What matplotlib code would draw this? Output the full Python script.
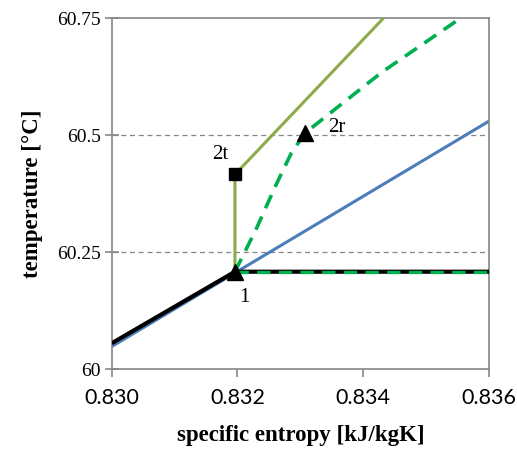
import matplotlib
matplotlib.use('Agg')
import matplotlib.pyplot as plt

# data
s1, T1 = 0.83196, 60.208
s_2t, T_2t = 0.83196, 60.416
s_2r, T_2r = 0.83307, 60.504

blue_s = [0.830, 0.836]
blue_T = [60.048, 60.530]

black_s = [0.830, s1, 0.836]
black_T = [60.055, T1, T1]

olive_s = [s1, s_2t, 0.83432, 0.8350]
olive_T = [T1, T_2t, 60.75, 60.858]

green_s = [s1, 0.83230, 0.83260, 0.83285, s_2r, 0.83350, 0.83430, 0.83560]
green_T = [T1, 60.300, 60.390, 60.460, T_2r, 60.550, 60.635, 60.755]

green_h_s = [s1, 0.836]
green_h_T = [T1, T1]

xticks = [0.830, 0.832, 0.834, 0.836]
yticks = [60, 60.25, 60.5, 60.75]
ytick_labels = ['60', '60.25', '60.5', '60.75']

grey = '#868686'
serif = 'Liberation Serif'

fig = plt.figure(figsize=(5.17, 4.55), dpi=100)
ax = fig.add_axes([0.216, 0.189, 0.730, 0.771])

for y in [60.25, 60.5]:
    ax.axhline(y, color=grey, lw=0.9, ls=(0, (4, 3)), zorder=1)

ax.plot(blue_s, blue_T, color='#4A7EBB', lw=2.2, zorder=2)
ax.plot(black_s, black_T, color='black', lw=3.0, zorder=3, solid_capstyle='butt')
ax.plot(olive_s, olive_T, color='#8FAA4B', lw=2.2, zorder=4)
ax.plot(green_s, green_T, color='#00B050', lw=2.6, ls=(0, (4, 2.5)), zorder=5)
ax.plot(green_h_s, green_h_T, color='#00B050', lw=2.4, ls=(0, (4, 2.5)), zorder=5)

ax.plot([s_2t], [T_2t], marker='s', ms=9, color='black', zorder=6)
ax.plot([s1, s_2r], [T1, T_2r], ls='none', marker='^', ms=11, color='black', zorder=6)

ax.text(s_2t - 0.00011, T_2t + 0.022, '2t', ha='right', va='bottom',
        fontsize=15, family=serif)
ax.text(s_2r + 0.00037, T_2r + 0.012, '2r', ha='left', va='center',
        fontsize=15, family=serif)
ax.text(s1 + 0.00015, T1 - 0.035, '1', ha='center', va='top',
        fontsize=15, family=serif)

ax.set_xlim(0.830, 0.836)
ax.set_ylim(60, 60.75)
ax.set_xticks(xticks)
ax.set_xticklabels([f'{v:.3f}' for v in xticks], family='Lato', fontsize=15.5)
ax.set_yticks(yticks)
ax.set_yticklabels(ytick_labels, family=serif, fontsize=14)
ax.tick_params(axis='x', direction='out', length=6, width=1.2, color=grey, pad=8)
ax.tick_params(axis='y', direction='inout', length=10, width=1.2, color=grey, pad=3)

for sp in ax.spines.values():
    sp.set_color(grey)
    sp.set_linewidth(1.2)

ax.set_xlabel('specific entropy [kJ/kgK]', family=serif,
              fontweight='bold', fontsize=16.5, labelpad=12)
ax.set_ylabel('temperature [°C]', family=serif,
              fontweight='bold', fontsize=16.5, labelpad=10)

fig.savefig('out.png', dpi=100)
